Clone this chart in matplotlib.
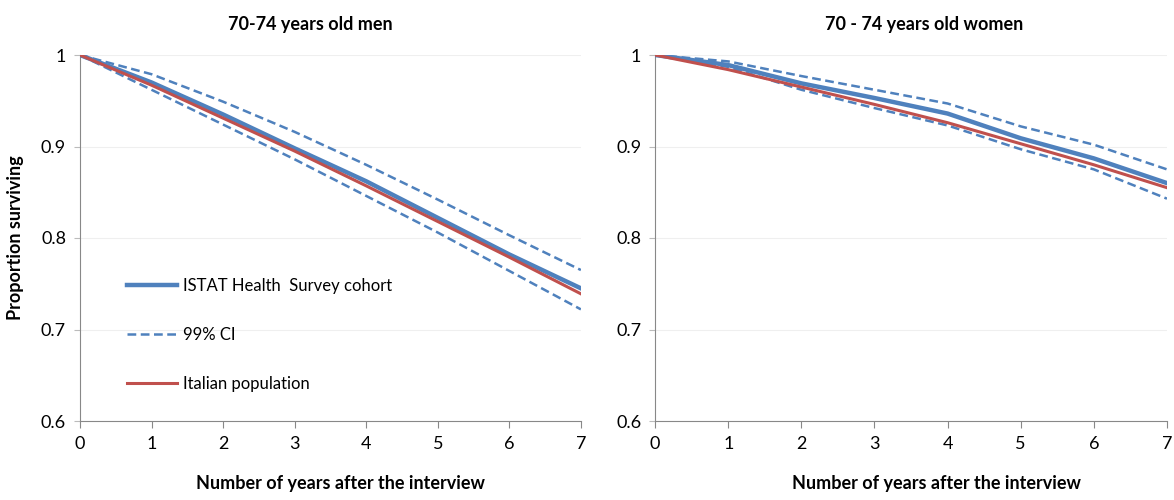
import numpy as np
import matplotlib
matplotlib.use("Agg")
import matplotlib.pyplot as plt

plt.rcParams['font.family'] = ['Lato', 'DejaVu Sans']

years = [0, 1, 2, 3, 4, 5, 6, 7]

# men 70-74
men_cohort = [1.0, 0.970, 0.935, 0.898, 0.862, 0.822, 0.782, 0.745]
men_upper = [1.0, 0.979, 0.949, 0.916, 0.880, 0.842, 0.803, 0.765]
men_lower = [1.0, 0.962, 0.924, 0.886, 0.846, 0.806, 0.764, 0.722]
men_italy = [1.0, 0.967, 0.931, 0.895, 0.857, 0.818, 0.779, 0.739]

# women 70-74
women_cohort = [1.0, 0.989, 0.969, 0.953, 0.936, 0.909, 0.887, 0.860]
women_upper = [1.0, 0.993, 0.977, 0.962, 0.947, 0.922, 0.902, 0.875]
women_lower = [1.0, 0.987, 0.962, 0.942, 0.923, 0.897, 0.875, 0.843]
women_italy = [1.0, 0.984, 0.965, 0.946, 0.926, 0.903, 0.880, 0.855]

yticks = [0.6, 0.7, 0.8, 0.9, 1.0]
ytick_labels = ['0.6', '0.7', '0.8', '0.9', '1']

blue = '#4F81BD'
red = '#C0504D'

fig = plt.figure(figsize=(11.74, 5), dpi=100)
ax1 = fig.add_axes([0.0681, 0.158, 0.4267, 0.732])
ax2 = fig.add_axes([0.558, 0.158, 0.436, 0.732])

panels = [
    (ax1, '70-74 years old men', 0.46, 0.52, men_cohort, men_upper, men_lower, men_italy),
    (ax2, '70 - 74 years old women', 0.525, 0.549, women_cohort, women_upper, women_lower, women_italy),
]

for ax, title, tx, lx, coh, up, lo, ita in panels:
    ax.plot(years, coh, color=blue, lw=3.2, label='ISTAT Health  Survey cohort', zorder=3)
    ax.plot(years, up, color=blue, lw=1.8, ls=(0, (3.5, 1.8)), label='99% CI', zorder=2)
    ax.plot(years, lo, color=blue, lw=1.8, ls=(0, (3.5, 1.8)), zorder=2)
    ax.plot(years, ita, color=red, lw=2.2, label='Italian population', zorder=4)
    ax.set_xlim(0, 7)
    ax.set_ylim(0.6, 1.0)
    ax.set_xticks(years)
    ax.set_yticks(yticks)
    ax.set_yticklabels(ytick_labels)
    ax.grid(axis='y', color='#efefef', lw=0.8)
    ax.set_axisbelow(True)
    for s in ['top', 'right']:
        ax.spines[s].set_visible(False)
    for s in ['left', 'bottom']:
        ax.spines[s].set_color('#888888')
    ax.tick_params(axis='x', length=5, color='#888888', labelsize=13, pad=6)
    ax.tick_params(axis='y', length=4, color='#bbbbbb', labelsize=13, pad=6)
    ax.set_title(title, fontsize=13, fontweight='bold', pad=18, x=tx)
    ax.set_xlabel('Number of years after the interview', fontsize=13, fontweight='bold',
                  labelpad=16, x=lx)

ax1.set_ylabel('Proportion surviving', fontsize=13, fontweight='bold', labelpad=12)

leg = ax1.legend(loc='center left', bbox_to_anchor=(0.094, 0.235), frameon=False,
                 fontsize=12, labelspacing=2.0, handlelength=3.0, handletextpad=0.35,
                 borderpad=0, borderaxespad=0)

fig.savefig('out.png', dpi=100)
